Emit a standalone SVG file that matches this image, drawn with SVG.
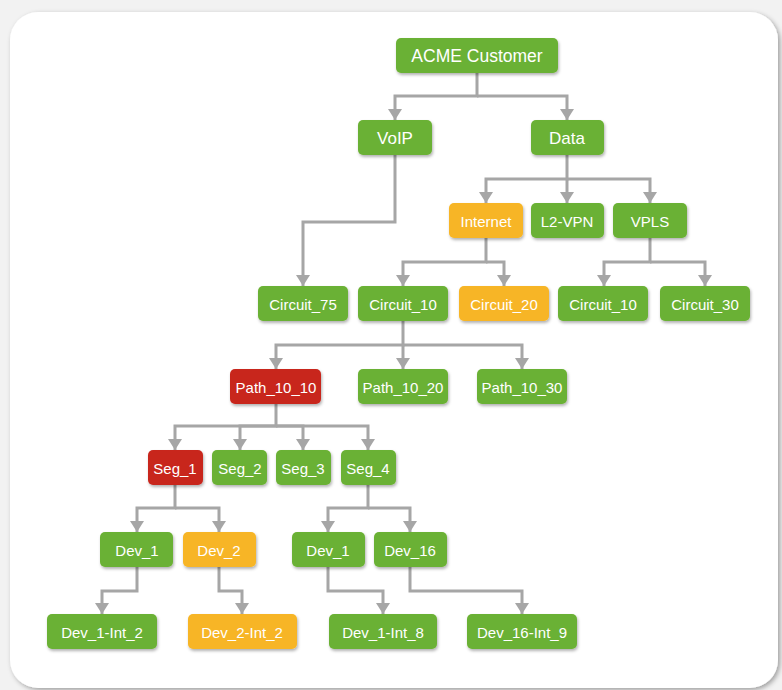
<svg xmlns="http://www.w3.org/2000/svg" width="782" height="690" viewBox="0 0 782 690">
<defs>
<style>
.n rect{rx:5;ry:5;filter:url(#ds)}
.g rect{fill:#6bb134}
.o rect{fill:#f7b526}
.r rect{fill:#c8271e}
.n text{font-family:"Liberation Sans",Arial,sans-serif;font-size:15px;fill:#fff;text-anchor:middle;dominant-baseline:central}
#conn path{fill:none;stroke:#a6a6a6;stroke-width:3;marker-end:url(#ah)}
</style>
<filter id="ds" x="-20%" y="-30%" width="140%" height="170%">
<feDropShadow dx="1" dy="2" stdDeviation="1.5" flood-color="#000" flood-opacity="0.3"/>
</filter>
<filter id="cs" x="-5%" y="-5%" width="110%" height="110%">
<feDropShadow dx="2" dy="2" stdDeviation="2.5" flood-color="#000" flood-opacity="0.35"/>
</filter>
<marker id="ah" markerUnits="userSpaceOnUse" markerWidth="14" markerHeight="12" viewBox="0 0 14 12" refX="7" refY="11" orient="0">
<path d="M0 0 H14 L7 11 Z" fill="#a6a6a6"/>
</marker>
</defs>
<rect width="782" height="690" fill="#f2f2f2"/>
<rect x="10" y="12" width="768" height="676" rx="28" fill="#fff" filter="url(#cs)"/>
<g id="conn">
<path d="M477 73 V96 H395 V120"/>
<path d="M477 96 H567 V120"/>
<path d="M567 155 V179 H486 V203"/>
<path d="M567 179 V203"/>
<path d="M567 179 H650 V203"/>
<path d="M395 155 V222 H303 V286"/>
<path d="M486 238 V262 H403 V286"/>
<path d="M486 262 H504 V286"/>
<path d="M650 238 V262 H604 V286"/>
<path d="M650 262 H705 V286"/>
<path d="M403 321 V345 H276 V369"/>
<path d="M403 345 V369"/>
<path d="M403 345 H522 V369"/>
<path d="M276 403 V426 H175 V450"/>
<path d="M276 426 H240 V450"/>
<path d="M276 426 H303 V450"/>
<path d="M276 426 H368 V450"/>
<path d="M175 485 V508 H137 V532"/>
<path d="M175 508 H219 V532"/>
<path d="M368 485 V508 H328 V532"/>
<path d="M368 508 H410 V532"/>
<path d="M137 567 V591 H102 V614"/>
<path d="M219 567 V591 H242 V614"/>
<path d="M328 567 V591 H383 V614"/>
<path d="M410 567 V591 H522 V614"/>
</g>
<g id="acme" class="n g"><rect x="396" y="38" width="162" height="35"/><text x="477" y="56" style="font-size:17.5px">ACME Customer</text></g>
<g id="voip" class="n g"><rect x="358" y="120" width="74" height="35"/><text x="395" y="138" style="font-size:17px">VoIP</text></g>
<g id="data" class="n g"><rect x="531" y="120" width="73" height="35"/><text x="567" y="138" style="font-size:17px">Data</text></g>
<g id="internet" class="n o"><rect x="449" y="203" width="74" height="35"/><text x="486" y="221">Internet</text></g>
<g id="l2vpn" class="n g"><rect x="531" y="203" width="73" height="35"/><text x="567" y="221">L2-VPN</text></g>
<g id="vpls" class="n g"><rect x="613" y="203" width="74" height="35"/><text x="650" y="221">VPLS</text></g>
<g id="circuit75" class="n g"><rect x="258" y="286" width="90" height="35"/><text x="303" y="304">Circuit_75</text></g>
<g id="circuit10a" class="n g"><rect x="358" y="286" width="90" height="35"/><text x="403" y="304">Circuit_10</text></g>
<g id="circuit20" class="n o"><rect x="459" y="286" width="90" height="35"/><text x="504" y="304">Circuit_20</text></g>
<g id="circuit10b" class="n g"><rect x="558" y="286" width="90" height="35"/><text x="603" y="304">Circuit_10</text></g>
<g id="circuit30" class="n g"><rect x="660" y="286" width="90" height="35"/><text x="705" y="304">Circuit_30</text></g>
<g id="path1010" class="n r"><rect x="230" y="369" width="91" height="35"/><text x="276" y="387">Path_10_10</text></g>
<g id="path1020" class="n g"><rect x="358" y="369" width="90" height="35"/><text x="403" y="387">Path_10_20</text></g>
<g id="path1030" class="n g"><rect x="477" y="369" width="90" height="35"/><text x="522" y="387">Path_10_30</text></g>
<g id="seg1" class="n r"><rect x="148" y="450" width="55" height="35"/><text x="175" y="468">Seg_1</text></g>
<g id="seg2" class="n g"><rect x="212" y="450" width="55" height="35"/><text x="240" y="468">Seg_2</text></g>
<g id="seg3" class="n g"><rect x="276" y="450" width="55" height="35"/><text x="303" y="468">Seg_3</text></g>
<g id="seg4" class="n g"><rect x="341" y="450" width="55" height="35"/><text x="368" y="468">Seg_4</text></g>
<g id="dev1a" class="n g"><rect x="100" y="532" width="73" height="35"/><text x="137" y="550">Dev_1</text></g>
<g id="dev2" class="n o"><rect x="183" y="532" width="73" height="35"/><text x="219" y="550">Dev_2</text></g>
<g id="dev1b" class="n g"><rect x="292" y="532" width="73" height="35"/><text x="328" y="550">Dev_1</text></g>
<g id="dev16" class="n g"><rect x="374" y="532" width="73" height="35"/><text x="410" y="550">Dev_16</text></g>
<g id="dev1int2" class="n g"><rect x="47" y="614" width="110" height="35"/><text x="102" y="632">Dev_1-Int_2</text></g>
<g id="dev2int2" class="n o"><rect x="188" y="614" width="109" height="35"/><text x="242" y="632">Dev_2-Int_2</text></g>
<g id="dev1int8" class="n g"><rect x="329" y="614" width="108" height="35"/><text x="383" y="632">Dev_1-Int_8</text></g>
<g id="dev16int9" class="n g"><rect x="467" y="614" width="110" height="35"/><text x="522" y="632">Dev_16-Int_9</text></g>
</svg>
